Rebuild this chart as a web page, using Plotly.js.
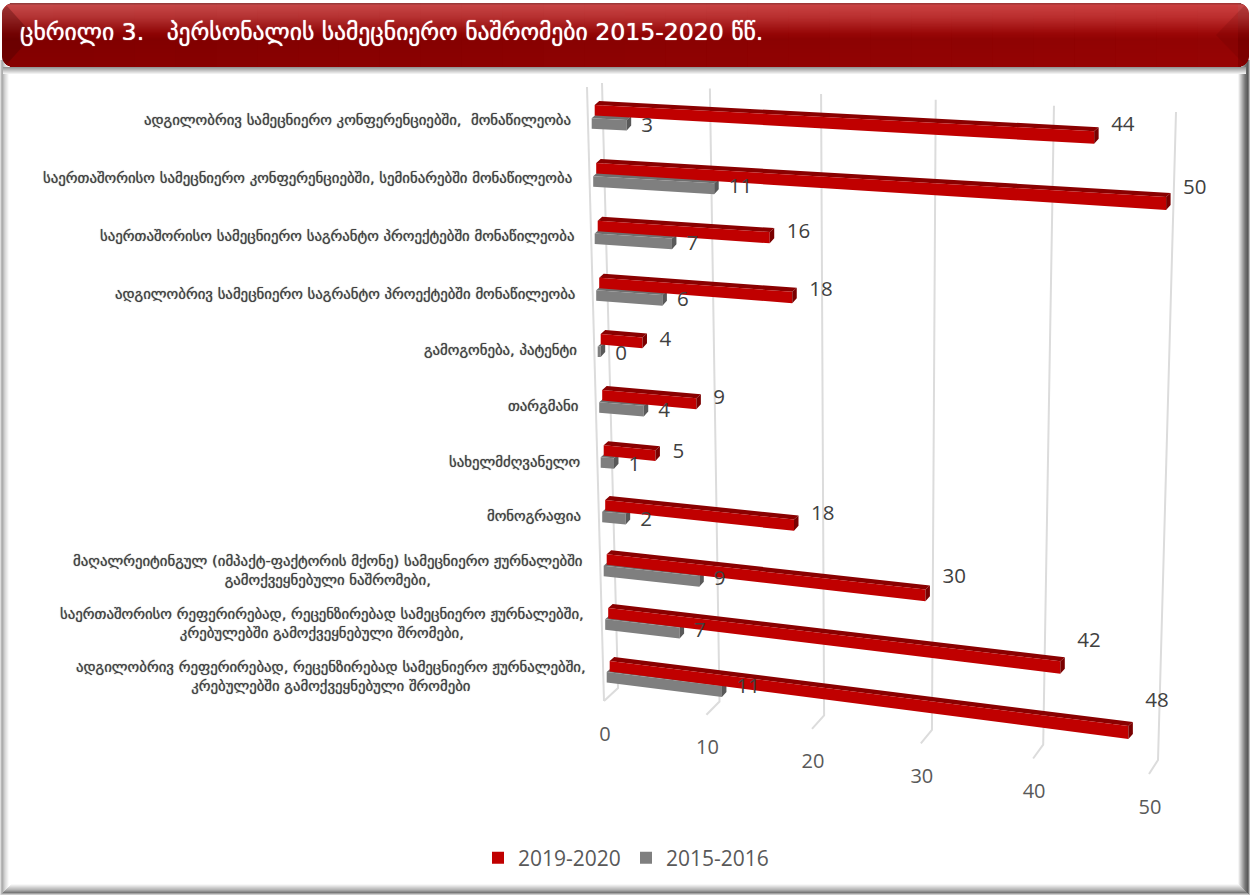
<!DOCTYPE html>
<html><head><meta charset="utf-8">
<script src="https://cdn.plot.ly/plotly-3.0.1.min.js"></script>
<style>html,body{margin:0;padding:0;background:#fff}#c{width:1250px;height:895px}</style>
</head><body><div id="c"></div>
<script>
const categories = [
 "ადგილობრივ სამეცნიერო კონფერენციებში,  მონაწილეობა",
 "საერთაშორისო სამეცნიერო კონფერენციებში, სემინარებში მონაწილეობა",
 "საერთაშორისო სამეცნიერო საგრანტო პროექტებში მონაწილეობა",
 "ადგილობრივ სამეცნიერო საგრანტო პროექტებში მონაწილეობა",
 "გამოგონება, პატენტი",
 "თარგმანი",
 "სახელმძღვანელო",
 "მონოგრაფია",
 "მაღალრეიტინგულ (იმპაქტ-ფაქტორის მქონე) სამეცნიერო ჟურნალებში<br>გამოქვეყნებული ნაშრომები,",
 "საერთაშორისო რეფერირებად, რეცენზირებად სამეცნიერო ჟურნალებში,<br>კრებულებში გამოქვეყნებული შრომები,",
 "ადგილობრივ რეფერირებად, რეცენზირებად სამეცნიერო ჟურნალებში,<br>კრებულებში გამოქვეყნებული შრომები"
];
const values2019 = [44,50,16,18,4,9,5,18,30,42,48];
const values2015 = [3,11,7,6,0,4,1,2,9,7,11];
const axisTicks = [0,10,20,30,40,50];
const name2019 = "2019-2020", name2015 = "2015-2016";
const titleText = "ცხრილი 3.\u00a0\u00a0\u00a0პერსონალის სამეცნიერო ნაშრომები 2015-2020 წწ.";

const FONT_G = "DejaVu Sans";
const FONT_N = "Open Sans";

// perspective projection of the chart's value/category space into the plot's axes
const vMax = 50, kPersp = 0.08;
const s = v => { const u = v / vMax; return u / (1 + kPersp * (1 - u)); };
const DX = 4.5, DY = 4;
const x0 = c => 594.7 + 1.5 * c;
const W = c => 573 - 3.1 * c;
const y0 = c => 101 + 58.4 * c - 0.28 * c * c;
const slope = c => 30 + 3.8 * c;
const H = v => 10.5 + 2.5 * s(v);
const greyDy = c => 13.3 - 0.23 * c;
function corner(v, c, g) { // front-top corner of a bar at value v
  const ox = g ? -3 : 0, oy = g ? greyDy(c) : 0;
  return [x0(c) + ox + W(c) * s(v), y0(c) + oy + DY + slope(c) * s(v)];
}
function boxFaces(vals, g) {
  const f = { top: [[], []], front: [[], []], side: [[], []] };
  const add = (k, pts) => { pts.forEach(p => { f[k][0].push(p[0]); f[k][1].push(p[1]); }); f[k][0].push(null); f[k][1].push(null); };
  vals.forEach((v, c) => {
    const a = corner(0, c, g), e = corner(v, c, g), ha = H(0), hb = H(v);
    const b = [e[0] + (g ? 3 : 0), e[1]];
    add('top', [[a[0] + DX, a[1] - DY], [b[0] + DX, b[1] - DY], b, a]);
    add('front', [a, b, [b[0], b[1] + hb], [a[0], a[1] + ha]]);
    add('side', [[b[0] + DX, b[1] - DY], b, [b[0], b[1] + hb], [b[0] + DX, b[1] - DY + hb - 1]]);
  });
  return f;
}
const poly = (xy, color) => ({ type: 'scatter', mode: 'none', x: xy[0], y: xy[1], fill: 'toself', fillcolor: color, showlegend: false, hoverinfo: 'skip' });

// walls (gridlines)
const wallTop = v => [602 + 574 * s(v), 83 + 29 * s(v)];
const wallBack = v => [618 + 540 * s(v), 688 + 72 * s(v)];
const wallFront = v => [604 + 545 * s(v), 701 + 73 * s(v)];
const gx = [], gy = [];
axisTicks.forEach(t => {
  [wallTop(t), wallBack(t), wallFront(t)].forEach(p => { gx.push(p[0]); gy.push(p[1]); });
  gx.push(null); gy.push(null);
});
gx.push(587, 604); gy.push(87, 701);

const rf = boxFaces(values2019, false), gf = boxFaces(values2015, true);
const labelPts = (vals, g) => vals.map((v, c) => {
  const b = corner(v, c, g);
  const lift = g ? 4 : 2 - 0.3 * c;
  return [b[0] + DX + (g ? 13 : 12.5), corner(0, c, g)[1] + 4 + lift + 0.58 * slope(c) * s(v)];
});
const lr = labelPts(values2019, false), lg = labelPts(values2015, true);
const valText = (pts, vals) => ({ type: 'scatter', mode: 'text', x: pts.map(p => p[0]), y: pts.map(p => p[1]), text: vals.map(String),
  textposition: 'middle right', textfont: { family: FONT_N, size: 20.5, color: '#404040' }, showlegend: false, hoverinfo: 'skip' });

const traces = [
  { type: 'scatter', mode: 'lines', x: gx, y: gy, line: { color: '#dcdcdc', width: 2 }, showlegend: false, hoverinfo: 'skip' },
  poly(gf.top, '#6f6f6f'), poly(gf.front, '#7f7f7f'), poly(gf.side, '#595959'),
  poly(rf.top, '#8a0000'), poly(rf.front, '#c00000'), poly(rf.side, '#7a0000'),
  valText(lg, values2015), valText(lr, values2019),
  { type: 'scatter', mode: 'text', x: axisTicks.map(t => wallFront(t)[0] + 1), y: axisTicks.map(t => wallFront(t)[1] + 34.5), text: axisTicks.map(String),
    textposition: 'middle center', textfont: { family: FONT_N, size: 20, color: '#595959' }, showlegend: false, hoverinfo: 'skip' },
  { type: 'scatter', mode: 'markers', x: [null], y: [null], name: name2019, marker: { symbol: 'square', size: 14, color: '#c00000' }, hoverinfo: 'skip' },
  { type: 'scatter', mode: 'markers', x: [null], y: [null], name: name2015, marker: { symbol: 'square', size: 14, color: '#7f7f7f' }, hoverinfo: 'skip' }
];

// chrome: frame and title band, drawn as stacked thin rects
const shapes = [];
const rect = (x0, y0, x1, y1, color) => shapes.push({ type: 'rect', xref: 'x', yref: 'y', x0, y0, x1, y1, fillcolor: color, line: { width: 0 }, layer: 'below' });
const mix = (a, b, t) => a.map((v, i) => Math.round(v + (b[i] - v) * t));
const rgb = a => `rgb(${a[0]},${a[1]},${a[2]})`;
const gr = g => [g, g, g];
function ramp(stops, t) {
  if (t <= stops[0][0]) return stops[0][1];
  for (let i = 1; i < stops.length; i++) if (t <= stops[i][0]) return mix(stops[i - 1][1], stops[i][1], (t - stops[i - 1][0]) / (stops[i][0] - stops[i - 1][0]));
  return stops[stops.length - 1][1];
}
const edgeL = [[0, gr(240)], [2, gr(165)], [5, gr(215)], [9, gr(255)]];
const edgeR = [[0, gr(225)], [2, gr(85)], [5, gr(120)], [12, gr(255)]];
const edgeB = [[0, gr(225)], [2.5, gr(120)], [5, gr(175)], [11, gr(255)]];
for (let i = 11; i >= 0; i--) rect(i, 895 - i - 1, 1250 - i, 895 - i, rgb(ramp(edgeB, i + 0.5)));
for (let i = 11; i >= 0; i--) {
  rect(i, 60, i + 1, 895 - i, rgb(ramp(edgeL, i + 0.5)));
  rect(1250 - i - 1, 60, 1250 - i, 895 - i, rgb(ramp(edgeR, i + 0.5)));
}
for (let y = 67; y < 74; y++) rect(3, y, 1246, y + 1, rgb(mix(gr(150), gr(255), (y - 67) / 7)));
const band = [[0, [150, 60, 60]], [2, [196, 72, 72]], [14, [178, 50, 50]], [30, [140, 5, 5]], [36, [128, 0, 0]], [64, [135, 0, 0]]];
for (let y = 3; y < 68; y++) {
  const r = 11, dT = y - 3 < r ? r - Math.sqrt(r * r - Math.pow(r - (y - 3) - 0.5, 2)) : 0, dB = 67 - y < r ? r - Math.sqrt(r * r - Math.pow(r - (67 - y) + 0.5, 2)) : 0;
  const ins = Math.max(dT, dB);
  rect(2 + ins, y, 1249 - ins, y + 1, rgb(ramp(band, y - 3)));
}
// band sheen towards the right, and bevelled ends
for (let i = 0; i < 30; i++) {
  const xa = 12 + i * 1226 / 30, xb = 12 + (i + 1) * 1226 / 30;
  shapes.push({ type: 'rect', xref: 'x', yref: 'y', x0: xa, x1: xb, y0: 3, y1: 67, fillcolor: `rgba(230,20,20,${(0.18 * i / 29).toFixed(3)})`, line: { width: 0 }, layer: 'below' });
}
shapes.push({ type: 'path', xref: 'x', yref: 'y', path: 'M 7 6 L 33 35 L 7 64 L 2 60 L 2 10 Z', fillcolor: 'rgba(60,0,0,0.3)', line: { width: 0 }, layer: 'below' });
shapes.push({ type: 'path', xref: 'x', yref: 'y', path: 'M 1244 6 L 1216 35 L 1244 64 L 1249 60 L 1249 10 Z', fillcolor: 'rgba(90,0,0,0.16)', line: { width: 0 }, layer: 'below' });

const labelAnn = categories.map((t, c) => ({
  xref: 'x', yref: 'y', x: 570.5 + 1.5 * c, y: 119 + 59 * c - 0.33 * c * c,
  text: t, showarrow: false, xanchor: 'right', yanchor: 'middle', align: 'center',
  font: { family: FONT_G, size: 14.8, color: '#404040', shadow: '0 0 1px rgba(64,64,64,0.8)' }, borderpad: 0, borderwidth: 0
}));

const layout = {
  width: 1250, height: 895, margin: { l: 0, r: 0, t: 0, b: 0, pad: 0 }, paper_bgcolor: '#fff', plot_bgcolor: '#fff',
  xaxis: { range: [0, 1250], visible: false, fixedrange: true },
  yaxis: { range: [895, 0], visible: false, fixedrange: true },
  title: { text: titleText, x: 20 / 1250, xanchor: 'left', y: 1 - 32 / 895, yanchor: 'middle', xref: 'paper', yref: 'paper', font: { family: FONT_G, size: 23.6, color: '#fff', shadow: '0 0 1px #ffffff' } },
  showlegend: true,
  legend: { orientation: 'h', x: 478 / 1250, xanchor: 'left', y: 1 - 858 / 895, yanchor: 'middle', itemsizing: 'constant', itemwidth: 30, entrywidth: 103, entrywidthmode: 'pixels', bgcolor: 'rgba(0,0,0,0)',
    font: { family: FONT_N, size: 21, color: '#595959' } },
  shapes, annotations: labelAnn
};
Plotly.newPlot('c', traces, layout, { staticPlot: true, displayModeBar: false });
</script></body></html>
